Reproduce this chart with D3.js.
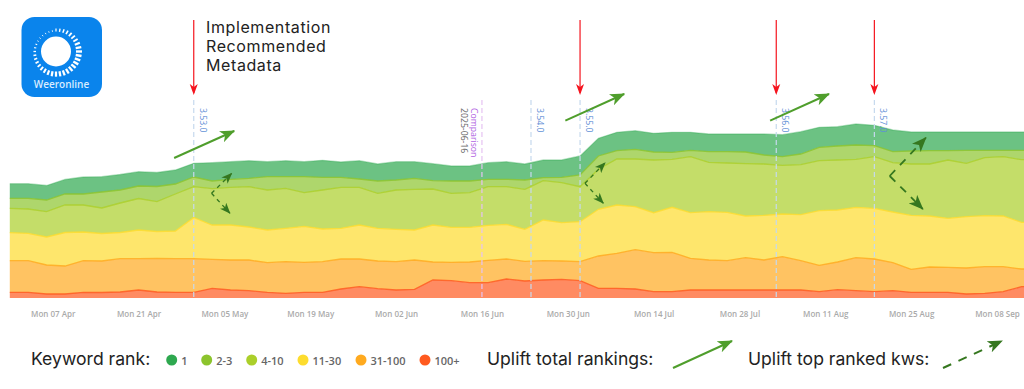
<!DOCTYPE html>
<html>
<head>
<meta charset="utf-8">
<script src="https://cdn.jsdelivr.net/npm/d3@7"></script>
<style>
  html, body { margin: 0; padding: 0; background: #fff; }
  svg { display: block; }
</style>
</head>
<body>
<div id="viz"></div>
<script>
const width = 1024;
const height = 389;
const margin = {top: 20, right: 27, bottom: 91, left: 9.8};

// Samples are three days apart, starting on 31 March 2025
const startDate = new Date(Date.UTC(2025, 2, 31));
const stepDays = 3;

const rankNames = ['100+', '31-100', '11-30', '4-10', '2-3', '1'];
const rankColors = ['#ff5a1f', '#ffaa1f', '#fddc2e', '#abcf2a', '#8cc42d', '#2ea84f'];

const rank1 = [14.6,14.6,14.5,14.5,17,15.3,15.5,14.3,14,14,13.7,18.3,17.6,17.6,15,16,15,17,15.3,18.3,17,18.3,16.6,17,15,15,16.6,17.6,16,17.7,17.3,19,17.7,18.4,18.6,18.7,20,18,17.7,17.7,18,21,22,22.3,20,19.3,21,20.4,21.7,19,18.7,18.7,18.3,18.3,18.3,18.3,18.3];
const rank2to3 = [10,10.7,11.7,11,11,16,13,12.5,15.2,10,9.7,7.7,8,8.4,13.3,11.6,16,12.7,10,8.3,12.3,10,11,8.3,12.3,11.7,7.4,7.4,9.3,3,5.4,11.7,13.3,8.3,9.7,8,7,6.4,10.6,11.3,11.7,9,8.6,10.7,13.4,14,14.3,11,11,13,13.3,9.3,13,7.4,6.4,9.4,9.4];
const rank4to10 = [24.4,24.3,25.3,27.5,27,25.5,29.5,31.5,29.8,37,30.8,36.3,37.7,40.3,40,40,33.6,39,41,37.7,35,39.3,40.7,36,34,34.6,38.6,37.6,40,39.3,40,35,40,46,47.7,52.7,48,56,49.4,49.3,52.3,51.3,48.7,50,50,50,48,51.6,49.3,51.3,52,58.3,53.4,58,59.3,62.6,62.6];
const rank11to30 = [28,27.4,28,33.5,28.7,27.5,26.2,28.7,27,27.7,41.2,34.3,35,33,32.7,33.4,36,32.7,30.7,34,32.7,32.4,30,37,35,34.7,35,34.7,32,40.7,38.3,40,46.7,48.3,43,40,45,45.6,48.3,48.4,41.7,44.7,42.7,46,54.6,52,50.4,50.7,50.7,54,51,49,51.3,51,50.7,46.7,46.7];
const rank31to100 = [31.6,31.6,29,28,31.6,31.5,33.3,31.3,33.5,33.6,33.6,29,30,30.7,29.6,31.6,30,30.6,30,27.7,27.7,28.3,29.3,18,18.4,20.7,22.4,20,19.7,19.3,18.3,19,32.3,35,39.3,39,39.4,31.7,30,29.3,32.3,30,33.3,29.3,26.4,27.7,33,32.7,28,23,25.3,25,26,26.6,25,17.7,17.7];
const rank100plus = [5.7,5.7,4,4,5.7,5.5,6,8,6,5.7,5.7,9.7,8,7.3,5.7,4.7,5.7,5.7,9,11.3,9.3,8,8.7,18,17.3,15.3,15.3,19,17,18,18.7,17.3,9.7,9.7,9,6.3,6.3,8,8,8,8,8,8,8,6.3,8.3,7.3,6.3,7.3,5.7,5.7,5.7,4,4.7,6.3,11.3,11.3];
const rankSeries = [rank100plus, rank31to100, rank11to30, rank4to10, rank2to3, rank1];

const tickDates = ['2025-04-07','2025-04-21','2025-05-05','2025-05-19','2025-06-02','2025-06-16','2025-06-30','2025-07-14','2025-07-28','2025-08-11','2025-08-25','2025-09-08'];

const releaseNames = ['3.53.0', '3.54.0', '3.55.0', '3.56.0', '3.57.0'];
const releaseDates = ['2025-04-30', '2025-06-24', '2025-07-02', '2025-08-03', '2025-08-19'];
const markedReleases = ['2025-04-30', '2025-07-02', '2025-08-03', '2025-08-19'];
const comparisonDate = '2025-06-16';

// Arrows: [day since start, level] -> [day since start, level]
const totalUplifts = [
  [[26.8, 140], [36.6, 167]],
  [[90.6, 177.3], [100.2, 204]],
  [[124, 177.3], [133.6, 204]]
];
const topRankUplifts = [
  [[32.9, 104.7], [36.2, 124.7]],
  [[32.9, 104.7], [35.9, 84.7]],
  [[93.8, 114.7], [97.1, 135.3]],
  [[93.8, 114.7], [96.8, 94.7]],
  [[143.5, 122], [149.4, 160.3]],
  [[143.5, 122], [148.9, 89]]
];

const legendNames = ['1', '2-3', '4-10', '11-30', '31-100', '100+'];
const headline = ['Implementation', 'Recommended', 'Metadata'];

const parseDay = d3.utcParse('%Y-%m-%d');
const dates = rank1.map((d, i) => d3.utcDay.offset(startDate, i * stepDays));
const table = dates.map((date, i) => {
  const row = {date};
  rankNames.forEach((name, s) => { row[name] = rankSeries[s][i]; });
  return row;
});

const svg = d3.select('#viz')
  .append('svg')
    .attr('width', width)
    .attr('height', height)
    .attr('viewBox', [0, 0, width, height]);

const defs = svg.append('defs');
const addMarker = (id, color, size) => {
  defs.append('marker')
      .attr('id', id)
      .attr('viewBox', '0 0 15 12')
      .attr('refX', 14)
      .attr('refY', 6)
      .attr('markerWidth', size)
      .attr('markerHeight', size * 0.8)
      .attr('markerUnits', 'userSpaceOnUse')
      .attr('orient', 'auto')
    .append('path')
      .attr('d', 'M0,0 L15,6 L0,12 L4,6 Z')
      .attr('fill', color);
};
addMarker('arrow-total', '#4f9e2c', 15);
addMarker('arrow-top', '#35771f', 15);
addMarker('arrow-top-small', '#35771f', 11);

const x = d3.scaleUtc()
  .domain([startDate, parseDay(tickDates[tickDates.length - 1])])
  .range([margin.left, 997]);
const y = d3.scaleLinear()
  .domain([0, 278])
  .range([height - margin.bottom, margin.top]);

const stacked = d3.stack().keys(rankNames)(table);

const area = d3.area()
  .x(d => x(d.data.date))
  .y0(d => y(d[0]))
  .y1(d => y(d[1]));
const topLine = d3.line()
  .x(d => x(d.data.date))
  .y(d => y(d[1]));

const bands = svg.append('g');
bands.selectAll('path.band').data(stacked).join('path')
    .attr('class', 'band')
    .attr('d', area)
    .attr('fill', (d, i) => rankColors[i])
    .attr('fill-opacity', 0.7);
bands.selectAll('path.edge').data(stacked).join('path')
    .attr('class', 'edge')
    .attr('d', topLine)
    .attr('fill', 'none')
    .attr('stroke', (d, i) => rankColors[i])
    .attr('stroke-opacity', (d, i) => i === 5 ? 0.35 : 0.85)
    .attr('stroke-width', 1.3);

// Date axis
const xAxis = d3.axisBottom(x)
  .tickValues(tickDates.map(parseDay))
  .tickSize(0)
  .tickFormat(d3.utcFormat('%a %d %b'));
const axisG = svg.append('g')
    .attr('transform', `translate(0, ${height - margin.bottom + 10})`)
    .call(xAxis);
axisG.select('.domain').remove();
axisG.selectAll('text')
    .attr('font-family', '"Open Sans", sans-serif')
    .attr('font-size', 8)
    .attr('font-weight', 600)
    .attr('fill', '#aaaaaa');

// Release markers
const lineTop = 198;
const drawMarker = (date, color) => {
  svg.append('line')
      .attr('x1', x(date)).attr('x2', x(date))
      .attr('y1', y(lineTop)).attr('y2', y(0))
      .attr('stroke', color)
      .attr('stroke-width', 1.2)
      .attr('stroke-dasharray', '5,3');
};
const sideLabel = (px, label, color) => {
  svg.append('text')
      .attr('transform', `translate(${px}, 108) rotate(90)`)
      .attr('font-family', '"Open Sans", sans-serif')
      .attr('font-size', 8.7)
      .attr('fill', color)
      .text(label);
};
releaseNames.forEach((name, i) => {
  const date = parseDay(releaseDates[i]);
  drawMarker(date, '#c6d9ee');
  sideLabel(x(date) + 6, name, '#5f8fd6');
});
drawMarker(parseDay(comparisonDate), '#e6c3f2');
sideLabel(x(parseDay(comparisonDate)) - 11, 'Comparison', '#b062e2');
sideLabel(x(parseDay(comparisonDate)) - 21, '2025-06-16', '#666666');

// Implementation arrows
svg.selectAll('line.release').data(markedReleases).join('line')
    .attr('class', 'release')
    .attr('x1', d => x(parseDay(d)))
    .attr('x2', d => x(parseDay(d)))
    .attr('y1', y(278))
    .attr('y2', y(205))
    .attr('stroke', '#f5141e')
    .attr('stroke-width', 1.2);
svg.selectAll('path.release-head').data(markedReleases).join('path')
    .attr('class', 'release-head')
    .attr('transform', d => `translate(${x(parseDay(d))}, ${y(203)})`)
    .attr('d', 'M-4,-11 L0,-8 L4,-11 L0,0 Z')
    .attr('fill', '#f5141e');

// Uplift arrows
const pxPerDay = x(d3.utcDay.offset(startDate, 1)) - x(startDate);
const arrowPoint = p => [x(startDate) + p[0] * pxPerDay, y(p[1])];
const isLong = d => (d[1][0] - d[0][0]) > 4;
svg.selectAll('path.total').data(totalUplifts).join('path')
    .attr('class', 'total')
    .attr('d', d => d3.line()(d.map(arrowPoint)))
    .attr('fill', 'none')
    .attr('stroke', '#4f9e2c')
    .attr('stroke-width', 2)
    .attr('marker-end', 'url(#arrow-total)');
svg.selectAll('path.top').data(topRankUplifts).join('path')
    .attr('class', 'top')
    .attr('d', d => d3.line()(d.map(arrowPoint)))
    .attr('fill', 'none')
    .attr('stroke', '#35771f')
    .attr('stroke-width', d => isLong(d) ? 1.8 : 1.3)
    .attr('stroke-dasharray', d => isLong(d) ? '8,7' : '4,4')
    .attr('marker-end', d => isLong(d) ? 'url(#arrow-top)' : 'url(#arrow-top-small)');

// Annotation and legend text
svg.append('g').selectAll('text').data(headline).join('text')
    .attr('x', 206)
    .attr('y', (d, i) => 32.5 + i * 19.4)
    .attr('font-family', 'Inter, sans-serif')
    .attr('font-size', 16)
    .attr('letter-spacing', 0.6)
    .attr('fill', '#222')
    .text(d => d);

const legendText = (px, label) => {
  svg.append('text')
      .attr('x', px)
      .attr('y', 365)
      .attr('font-family', 'Inter, sans-serif')
      .attr('font-size', 17.6)
      .attr('fill', '#222')
      .text(label);
};
legendText(31, 'Keyword rank:');
legendText(487, 'Uplift total rankings:');
legendText(748, 'Uplift top ranked kws:');

const legendPositions = [171.7, 206.7, 251.7, 303, 361, 425];
const legendG = svg.append('g').selectAll('g').data(legendNames).join('g')
    .attr('transform', (d, i) => `translate(${legendPositions[i]}, 360)`);
legendG.append('circle')
    .attr('r', 5.5)
    .attr('fill', d => rankColors[rankNames.indexOf(d)]);
legendG.append('text')
    .attr('x', 9.5)
    .attr('y', 4.5)
    .attr('font-family', '"Open Sans", sans-serif')
    .attr('font-size', 11)
    .attr('font-weight', 600)
    .attr('fill', '#666')
    .text(d => d);

// Legend arrows
const legendArrow = (x1, x2, color, marker, dash) => {
  svg.append('line')
      .attr('x1', x1).attr('y1', 368)
      .attr('x2', x2).attr('y2', 341)
      .attr('stroke', color)
      .attr('stroke-width', 2)
      .attr('stroke-dasharray', dash)
      .attr('marker-end', `url(#${marker})`);
};
legendArrow(673, 732, '#4f9e2c', 'arrow-total', null);
legendArrow(943, 1002, '#35771f', 'arrow-top', '9,8');

// Weeronline logo: rays swell clockwise from the top and thin out to the left
const logo = svg.append('g').attr('transform', 'translate(21.5, 17)');
logo.append('rect')
    .attr('width', 80.5)
    .attr('height', 80)
    .attr('rx', 13)
    .attr('fill', '#0a84ec');
logo.append('circle')
    .attr('cx', 34.5)
    .attr('cy', 34.5)
    .attr('r', 15)
    .attr('fill', '#fff');
const rayAngles = d3.range(0, 360, 10);
const rayLength = d3.scaleLinear().domain([0, 90, 200, 300, 360]).range([3, 6, 5, 1.5, 1.5]);
const rayWidth = d3.scaleLinear().domain([0, 90, 200, 300, 360]).range([1.2, 2.4, 2.2, 0.9, 0.9]);
const polar = (r, deg) => [34.5 + r * Math.cos((deg - 90) * Math.PI / 180), 34.5 + r * Math.sin((deg - 90) * Math.PI / 180)];
logo.selectAll('line.ray').data(rayAngles).join('line')
    .attr('class', 'ray')
    .attr('x1', d => polar(20, d)[0])
    .attr('y1', d => polar(20, d)[1])
    .attr('x2', d => polar(20 + rayLength(d), d)[0])
    .attr('y2', d => polar(20 + rayLength(d), d)[1])
    .attr('stroke', '#fff')
    .attr('stroke-width', d => rayWidth(d));
logo.append('text')
    .attr('x', 40)
    .attr('y', 71)
    .attr('text-anchor', 'middle')
    .attr('font-family', '"Open Sans", sans-serif')
    .attr('font-size', 10)
    .attr('font-weight', 600)
    .attr('fill', '#d8ecff')
    .text('Weeronline');
</script>
</body>
</html>
